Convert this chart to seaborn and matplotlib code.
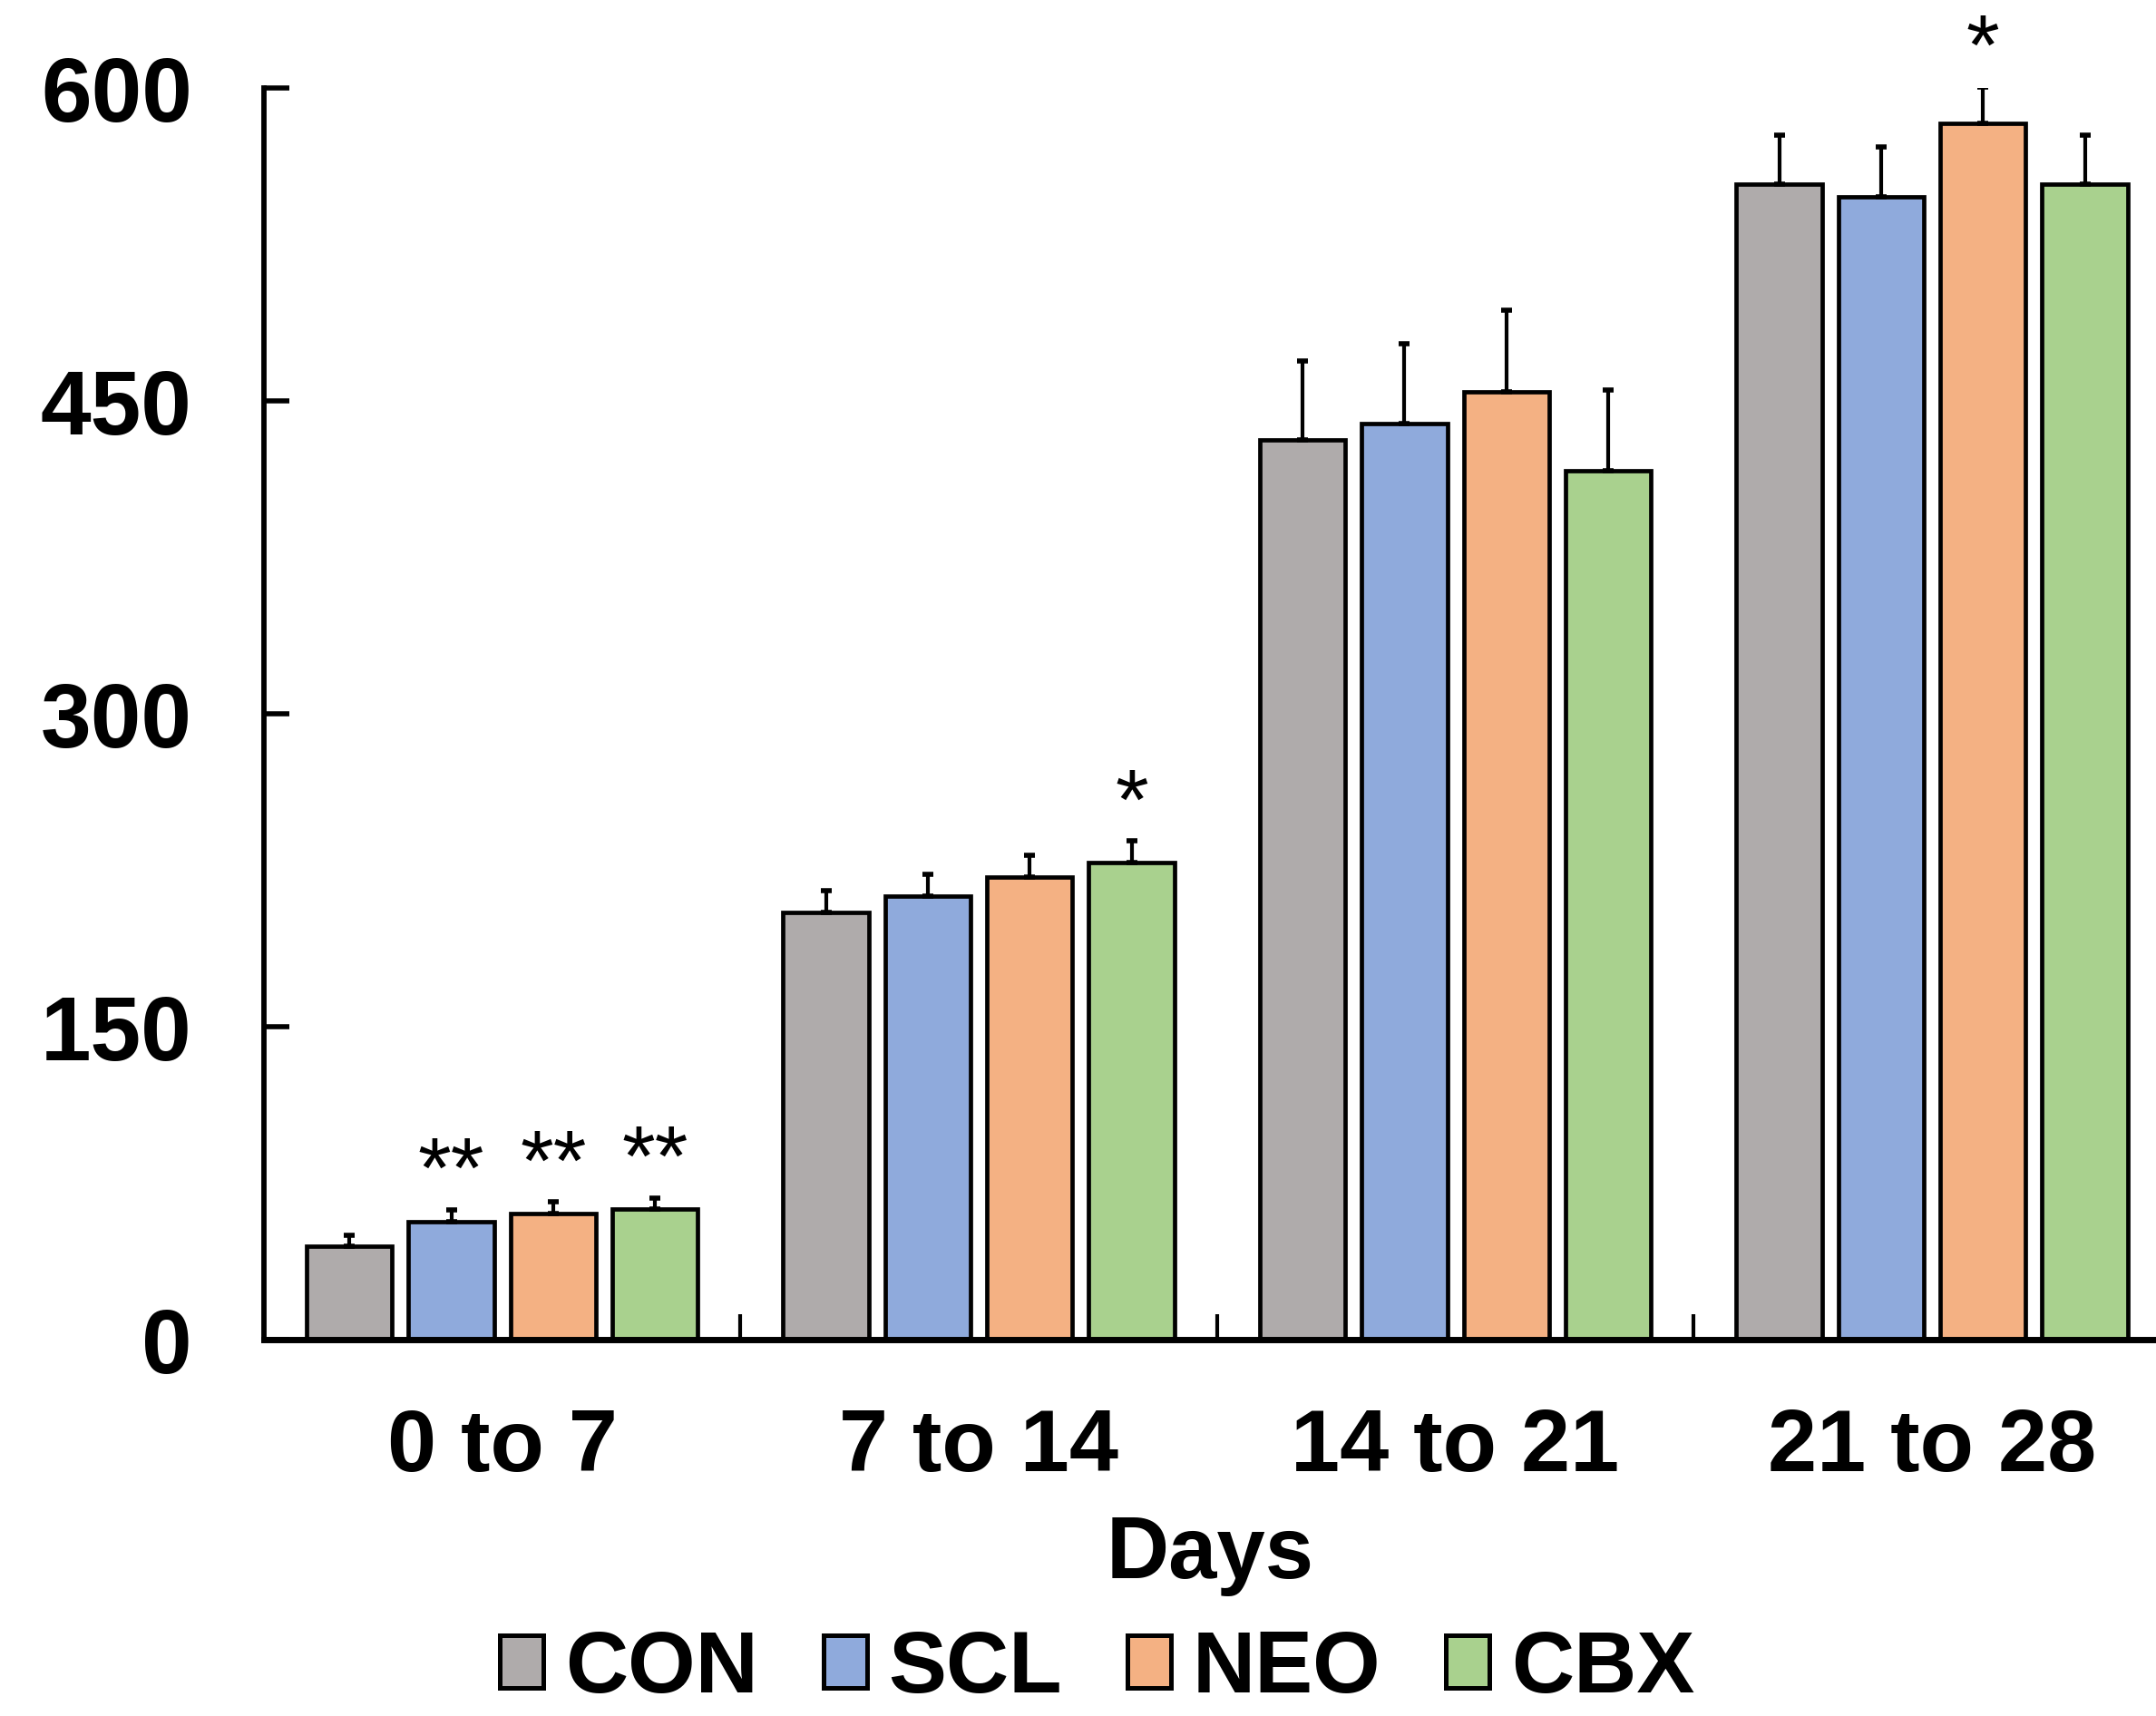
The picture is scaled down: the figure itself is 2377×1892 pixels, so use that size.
import matplotlib
matplotlib.use("Agg")
import matplotlib.pyplot as plt
import matplotlib.patches as mpatches
import seaborn as sns
import pandas as pd

# ---- data ----
categories = ["0 to 7", "7 to 14", "14 to 21", "21 to 28"]
series = ["CON", "SCL", "NEO", "CBX"]
values = {
    "CON": [44.8, 204.8, 431.3, 554.0],
    "SCL": [56.7, 212.5, 439.3, 548.0],
    "NEO": [60.6, 221.6, 454.5, 583.1],
    "CBX": [62.8, 228.7, 416.7, 554.0],
}
errors = {
    "CON": [5.3, 10.3, 37.8, 23.6],
    "SCL": [5.5, 10.5, 38.1, 23.6],
    "NEO": [5.5, 10.4, 38.8, 17.4],
    "CBX": [5.2, 10.4, 38.4, 23.6],
}
# significance marks: (category, series, text)
marks = [("0 to 7", "SCL", "**"), ("0 to 7", "NEO", "**"), ("0 to 7", "CBX", "**"),
         ("7 to 14", "CBX", "*"), ("21 to 28", "NEO", "*")]
colors = ["#AFABAB", "#8FAADC", "#F4B183", "#A9D18E"]
yticks = [0, 150, 300, 450, 600]
xlabel = "Days"

rows = []
for s in series:
    for c, v, e in zip(categories, values[s], errors[s]):
        rows.append({"Days": c, "Group": s, "Value": v, "Err": e})
df = pd.DataFrame(rows)

sns.set_theme(style="white")
plt.rcParams["font.family"] = ["Liberation Sans", "DejaVu Sans"]
plt.rcParams["text.color"] = "black"
plt.rcParams["axes.labelcolor"] = "black"
plt.rcParams["xtick.color"] = "black"
plt.rcParams["ytick.color"] = "black"

fig = plt.figure(figsize=(23.77, 18.92), dpi=100)
ax = fig.add_axes([0.1224, 0.2193, 0.8776, 0.7294])

sns.barplot(data=df, x="Days", y="Value", hue="Group", order=categories,
            hue_order=series, palette=colors, errorbar=None, width=0.855,
            gap=0.16, edgecolor="black", linewidth=3.4, saturation=1,
            legend=False, ax=ax)

# error bars (upper only) from the bar geometry
for s, cont in zip(series, ax.containers):
    for c, bar in zip(categories, cont):
        xc = bar.get_x() + bar.get_width() / 2
        h = bar.get_height()
        e = errors[s][categories.index(c)]
        ax.errorbar([xc], [h], yerr=[[0], [e]], fmt="none", ecolor="black",
                    elinewidth=3.0, capsize=4.4, capthick=4, zorder=1)
        for mc, ms, txt in marks:
            if mc == c and ms == s:
                ax.text(xc, h + e + 6, txt, ha="center", va="baseline",
                        fontsize=68, color="black", clip_on=False)

ax.set_ylim(0, 600)
ax.set_xlim(-0.5, 3.47)
ax.set_yticks(yticks)
ax.set_yticklabels([str(t) for t in yticks], fontsize=72, fontweight="bold")
ax.set_xticks(range(len(categories)))
ax.set_xticklabels(categories, fontsize=70, fontweight="bold")
ax.set_xticks([0.5, 1.5, 2.5], minor=True)
ax.tick_params(axis="x", which="major", length=0, pad=54, colors="black")
ax.tick_params(axis="x", which="minor", direction="in", length=20, width=3,
               color="black", bottom=True)
ax.tick_params(axis="y", which="major", direction="in", length=20, width=4,
               color="black", pad=57, left=True, labelcolor="black")
ax.set_xlabel(xlabel, fontsize=69, fontweight="bold", labelpad=20, color="black")
ax.set_ylabel("")

for side in ["top", "right"]:
    ax.spines[side].set_visible(False)
ax.spines["left"].set_linewidth(4.2)
ax.spines["bottom"].set_linewidth(5)
ax.spines["left"].set_color("black")
ax.spines["bottom"].set_color("black")
ax.spines["left"].set_capstyle("projecting")

handles = [mpatches.Patch(facecolor=col, edgecolor="black", linewidth=3.6, label=s)
           for s, col in zip(series, colors)]
leg = fig.legend(handles=handles, loc="center", bbox_to_anchor=(0.509, 0.027), ncol=4,
                 frameon=False, handlelength=0.5, handleheight=0.56, handletextpad=0.25,
                 columnspacing=0.75, borderpad=0.1, prop={"size": 69, "weight": "bold"})
for t in leg.get_texts():
    t.set_color("black")

fig.savefig("out.png", dpi=100, facecolor="white")
